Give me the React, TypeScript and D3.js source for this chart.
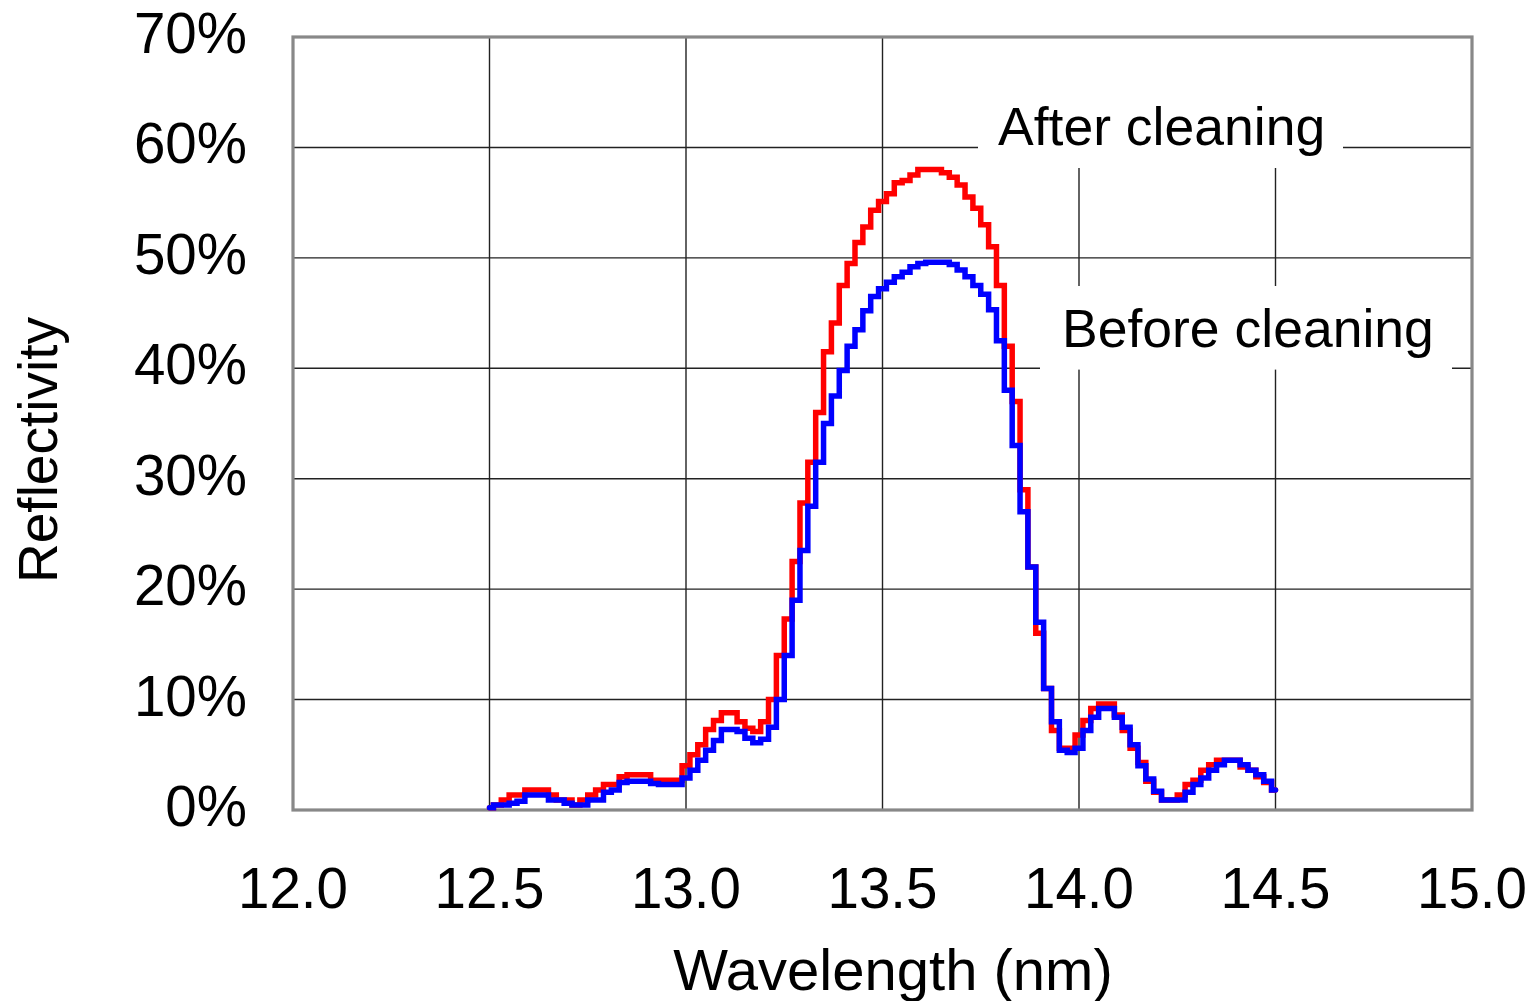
import React from "react";
import * as d3 from "d3";

// Wavelength grid of the measured spectra (nm), 0.02 nm step from 12.50 to 14.50
const wavelengths: number[] = d3.range(0, 101).map((i) => +(12.5 + i * 0.02).toFixed(2));

// Reflectivity after cleaning (%)
const afterCleaning: number[] = [
  0.2, 0.45, 0.9, 1.35, 1.35, 1.8, 1.8, 1.8, 1.35, 0.9,
  0.9, 0.45, 0.9, 1.35, 1.8, 2.3, 2.3, 3.0, 3.2, 3.2,
  3.2, 2.7, 2.7, 2.7, 2.7, 4.0, 5.0, 5.9, 7.3, 8.1,
  8.8, 8.8, 8.0, 7.4, 7.1, 8.0, 10.0, 14.0, 17.3, 22.5,
  27.8, 31.5, 36.0, 41.5, 44.1, 47.5, 49.5, 51.4, 52.8, 54.3,
  55.1, 55.8, 56.8, 57.0, 57.5, 58.0, 58.0, 58.0, 57.7, 57.3,
  56.6, 55.5, 54.5, 53.0, 51.0, 47.5, 42.0, 37.0, 29.0, 22.0,
  16.0, 11.0, 7.2, 5.6, 5.6, 6.8, 8.1, 9.2, 9.6, 9.6,
  8.6, 7.2, 5.6, 4.3, 2.6, 1.6, 0.9, 0.9, 1.35, 2.3,
  2.7, 3.6, 4.1, 4.5, 4.5, 4.5, 3.9, 3.6, 3.0, 2.5,
  1.8,
];

// Reflectivity before cleaning (%)
const beforeCleaning: number[] = [
  0.2, 0.45, 0.45, 0.6, 0.8, 1.35, 1.35, 1.35, 0.9, 0.9,
  0.6, 0.45, 0.45, 0.9, 0.9, 1.6, 1.8, 2.5, 2.6, 2.6,
  2.6, 2.4, 2.3, 2.3, 2.3, 2.9, 3.6, 4.5, 5.4, 6.3,
  7.3, 7.3, 7.1, 6.5, 6.1, 6.4, 7.5, 10.0, 14.0, 19.0,
  23.5, 27.5, 31.5, 35.0, 37.5, 39.8, 42.0, 43.5, 45.2, 46.5,
  47.2, 47.8, 48.3, 48.7, 49.2, 49.5, 49.6, 49.6, 49.6, 49.4,
  48.9, 48.3, 47.5, 46.7, 45.3, 42.5, 38.0, 33.0, 27.0, 22.0,
  17.0, 11.0, 8.0, 5.4, 5.2, 5.6, 7.2, 8.4, 9.2, 9.2,
  8.4, 7.5, 5.9, 4.0, 2.8, 1.7, 0.9, 0.9, 0.9, 1.6,
  2.3, 2.9, 3.6, 4.1, 4.5, 4.5, 4.1, 3.6, 3.2, 2.6,
  1.8,
];

const xTicks: number[] = [12.0, 12.5, 13.0, 13.5, 14.0, 14.5, 15.0];
const yTicks: number[] = [0, 0.1, 0.2, 0.3, 0.4, 0.5, 0.6, 0.7];

const seriesNames = ["After cleaning", "Before cleaning"];

const W = 1540;
const H = 1001;
const FONT = "'Liberation Sans', Arial, Helvetica, sans-serif";

export default function App() {
  const plot = { left: 293, right: 1472, top: 37, bottom: 810 };

  const x = d3.scaleLinear().domain([12, 15]).range([plot.left, plot.right]);
  const y = d3.scaleLinear().domain([0, 0.7]).range([plot.bottom, plot.top]);

  const line = d3
    .line<number>()
    .x((_, i) => x(wavelengths[i]))
    .y((d) => y(d / 100))
    .curve(d3.curveStep);

  const fmtX = d3.format(".1f");
  const fmtY = d3.format(".0%");

  return (
    <svg
      width={W}
      height={H}
      viewBox={`0 0 ${W} ${H}`}
      style={{ position: "absolute", left: 0, top: 0, background: "#fff" }}
      fontFamily={FONT}
    >
      <rect x={0} y={0} width={W} height={H} fill="#fff" />

      {/* grid */}
      <g stroke="#222" strokeWidth={1.4}>
        {xTicks.slice(1, -1).map((t) => (
          <line key={`gx${t}`} x1={x(t)} x2={x(t)} y1={plot.top} y2={plot.bottom} />
        ))}
        {yTicks.slice(1, -1).map((t) => (
          <line key={`gy${t}`} x1={plot.left} x2={plot.right} y1={y(t)} y2={y(t)} />
        ))}
      </g>

      {/* label backgrounds */}
      <rect x={978} y={plot.top} width={365} height={168 - plot.top} fill="#fff" />
      <rect x={1040} y={286} width={412} height={83.6} fill="#fff" />

      {/* plot frame */}
      <rect
        x={plot.left}
        y={plot.top}
        width={plot.right - plot.left}
        height={plot.bottom - plot.top}
        fill="none"
        stroke="#888"
        strokeWidth={3.2}
      />

      {/* axis tick labels */}
      <g fontSize={56.5} fill="#000">
        {yTicks.map((t) => (
          <text key={`ly${t}`} x={247} y={y(t) + 16} textAnchor="end">
            {fmtY(t)}
          </text>
        ))}
        {xTicks.map((t) => (
          <text key={`lx${t}`} x={x(t)} y={908} textAnchor="middle">
            {fmtX(t)}
          </text>
        ))}
      </g>

      {/* axis titles */}
      <text x={893} y={990} fontSize={58} textAnchor="middle" fill="#000">
        Wavelength (nm)
      </text>
      <text
        transform={`translate(57,450) rotate(-90)`}
        fontSize={55}
        textAnchor="middle"
        fill="#000"
      >
        Reflectivity
      </text>

      {/* series */}
      <path
        d={line(afterCleaning) ?? ""}
        fill="none"
        stroke="#ff0000"
        strokeWidth={5.5}
        strokeLinejoin="miter"
        strokeLinecap="round"
      />
      <path
        d={line(beforeCleaning) ?? ""}
        fill="none"
        stroke="#0000ff"
        strokeWidth={5.5}
        strokeLinejoin="miter"
        strokeLinecap="round"
      />

      {/* series labels */}
      <text x={998} y={145} fontSize={53.5} fill="#000">
        {seriesNames[0]}
      </text>
      <text x={1062} y={347} fontSize={53.5} fill="#000">
        {seriesNames[1]}
      </text>
    </svg>
  );
}
